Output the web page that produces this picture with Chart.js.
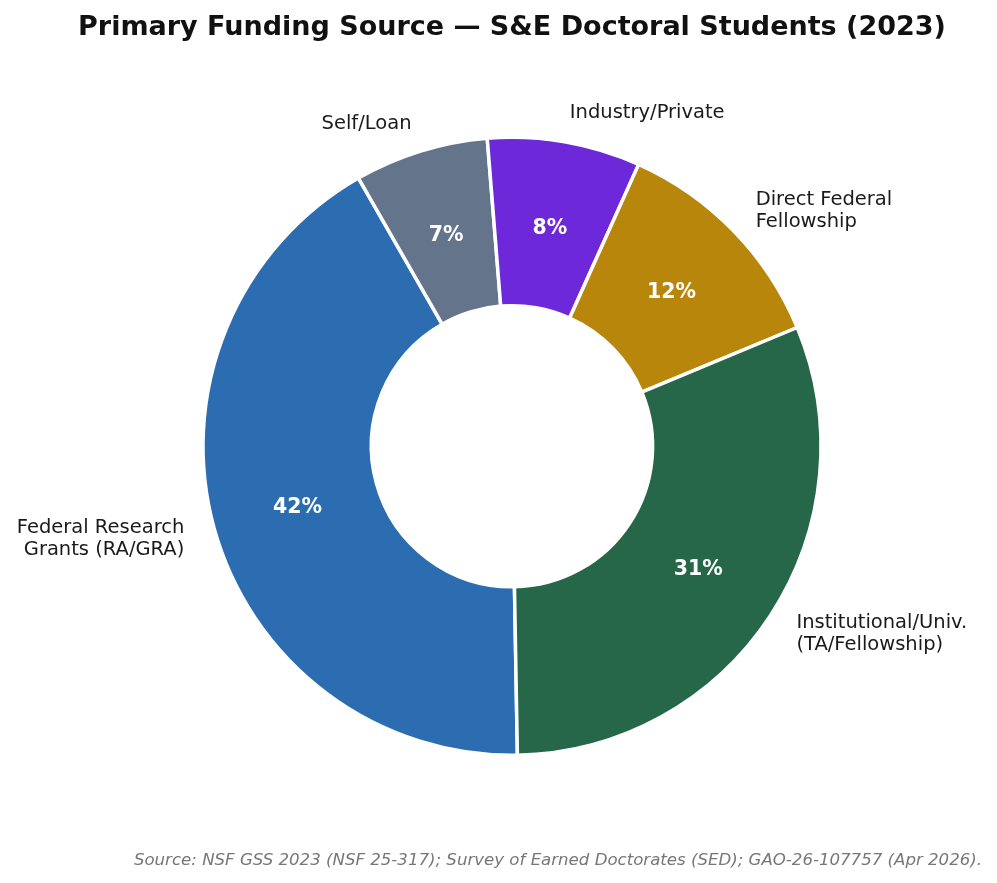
<!DOCTYPE html>
<html>
<head>
<meta charset="utf-8">
<script src="https://cdn.jsdelivr.net/npm/chart.js@4"></script>
<style>
  html, body { margin: 0; padding: 0; background: #fff; }
  #wrap { width: 997px; height: 883px; }
</style>
</head>
<body>
<div id="wrap"><canvas id="fundingChart"></canvas></div>
<script>
// Data (clockwise from the bottom)
const categories = [
  ['Federal Research', 'Grants (RA/GRA)'],
  ['Self/Loan'],
  ['Industry/Private'],
  ['Direct Federal', 'Fellowship'],
  ['Institutional/Univ.', '(TA/Fellowship)']
];
const shares = [42, 7, 8, 12, 31];
const sliceColors = ['#2c6cb0', '#64748b', '#6d28d9', '#b8860b', '#276749'];

const FONT = "'DejaVu Sans', sans-serif";

// draws the percentage inside each slice and the category name outside
const sliceLabels = {
  id: 'sliceLabels',
  afterDatasetsDraw(chart) {
    const ctx = chart.ctx;
    const meta = chart.getDatasetMeta(0);
    ctx.save();
    meta.data.forEach(function (arc, i) {
      const p = arc.getProps(['x', 'y', 'startAngle', 'endAngle', 'innerRadius', 'outerRadius'], true);
      const mid = (p.startAngle + p.endAngle) / 2;
      const cos = Math.cos(mid), sin = Math.sin(mid);

      // percent text
      const rIn = p.outerRadius * 0.72;
      ctx.fillStyle = '#ffffff';
      ctx.font = 'bold 20.5px ' + FONT;
      ctx.textAlign = 'center';
      ctx.textBaseline = 'middle';
      ctx.fillText(shares[i] + '%', p.x + cos * rIn, p.y + sin * rIn + 2);

      // outer category label
      const rOut = p.outerRadius * 1.1;
      const lx = p.x + cos * rOut;
      const ly = p.y + sin * rOut + 2;
      const lines = categories[i];
      const lh = 22;
      ctx.fillStyle = '#1a1a1a';
      ctx.font = '19.5px ' + FONT;
      ctx.textAlign = lx < p.x ? 'right' : 'left';
      lines.forEach(function (t, k) {
        ctx.fillText(t, lx, ly + (k - (lines.length - 1) / 2) * lh);
      });
    });
    ctx.restore();
  }
};

const ctx = document.getElementById('fundingChart').getContext('2d');
const fundingChart = new Chart(ctx, {
  type: 'doughnut',
  data: {
    labels: categories.map(function (c) { return c.join(' '); }),
    datasets: [{
      data: shares,
      backgroundColor: sliceColors,
      borderColor: '#ffffff',
      borderWidth: 3.5,
      hoverOffset: 0
    }]
  },
  options: {
    responsive: true,
    maintainAspectRatio: false,
    animation: false,
    rotation: 179,
    cutout: '45.5%',
    radius: 309,
    layout: { padding: { left: 42, right: 15, top: 0, bottom: 0 } },
    plugins: {
      legend: { display: false },
      tooltip: { enabled: false },
      title: {
        display: true,
        text: 'Primary Funding Source — S&E Doctoral Students (2023)',
        color: '#111111',
        font: { family: FONT, size: 27, weight: 'bold' },
        padding: { top: 12, bottom: 8 }
      },
      subtitle: {
        display: true,
        position: 'bottom',
        align: 'end',
        text: 'Source: NSF GSS 2023 (NSF 25-317); Survey of Earned Doctorates (SED); GAO-26-107757 (Apr 2026).',
        color: '#777777',
        font: { family: FONT, size: 16.6, style: 'italic' },
        padding: { top: 11, bottom: 12 }
      }
    }
  },
  plugins: [sliceLabels]
});
</script>
</body>
</html>
